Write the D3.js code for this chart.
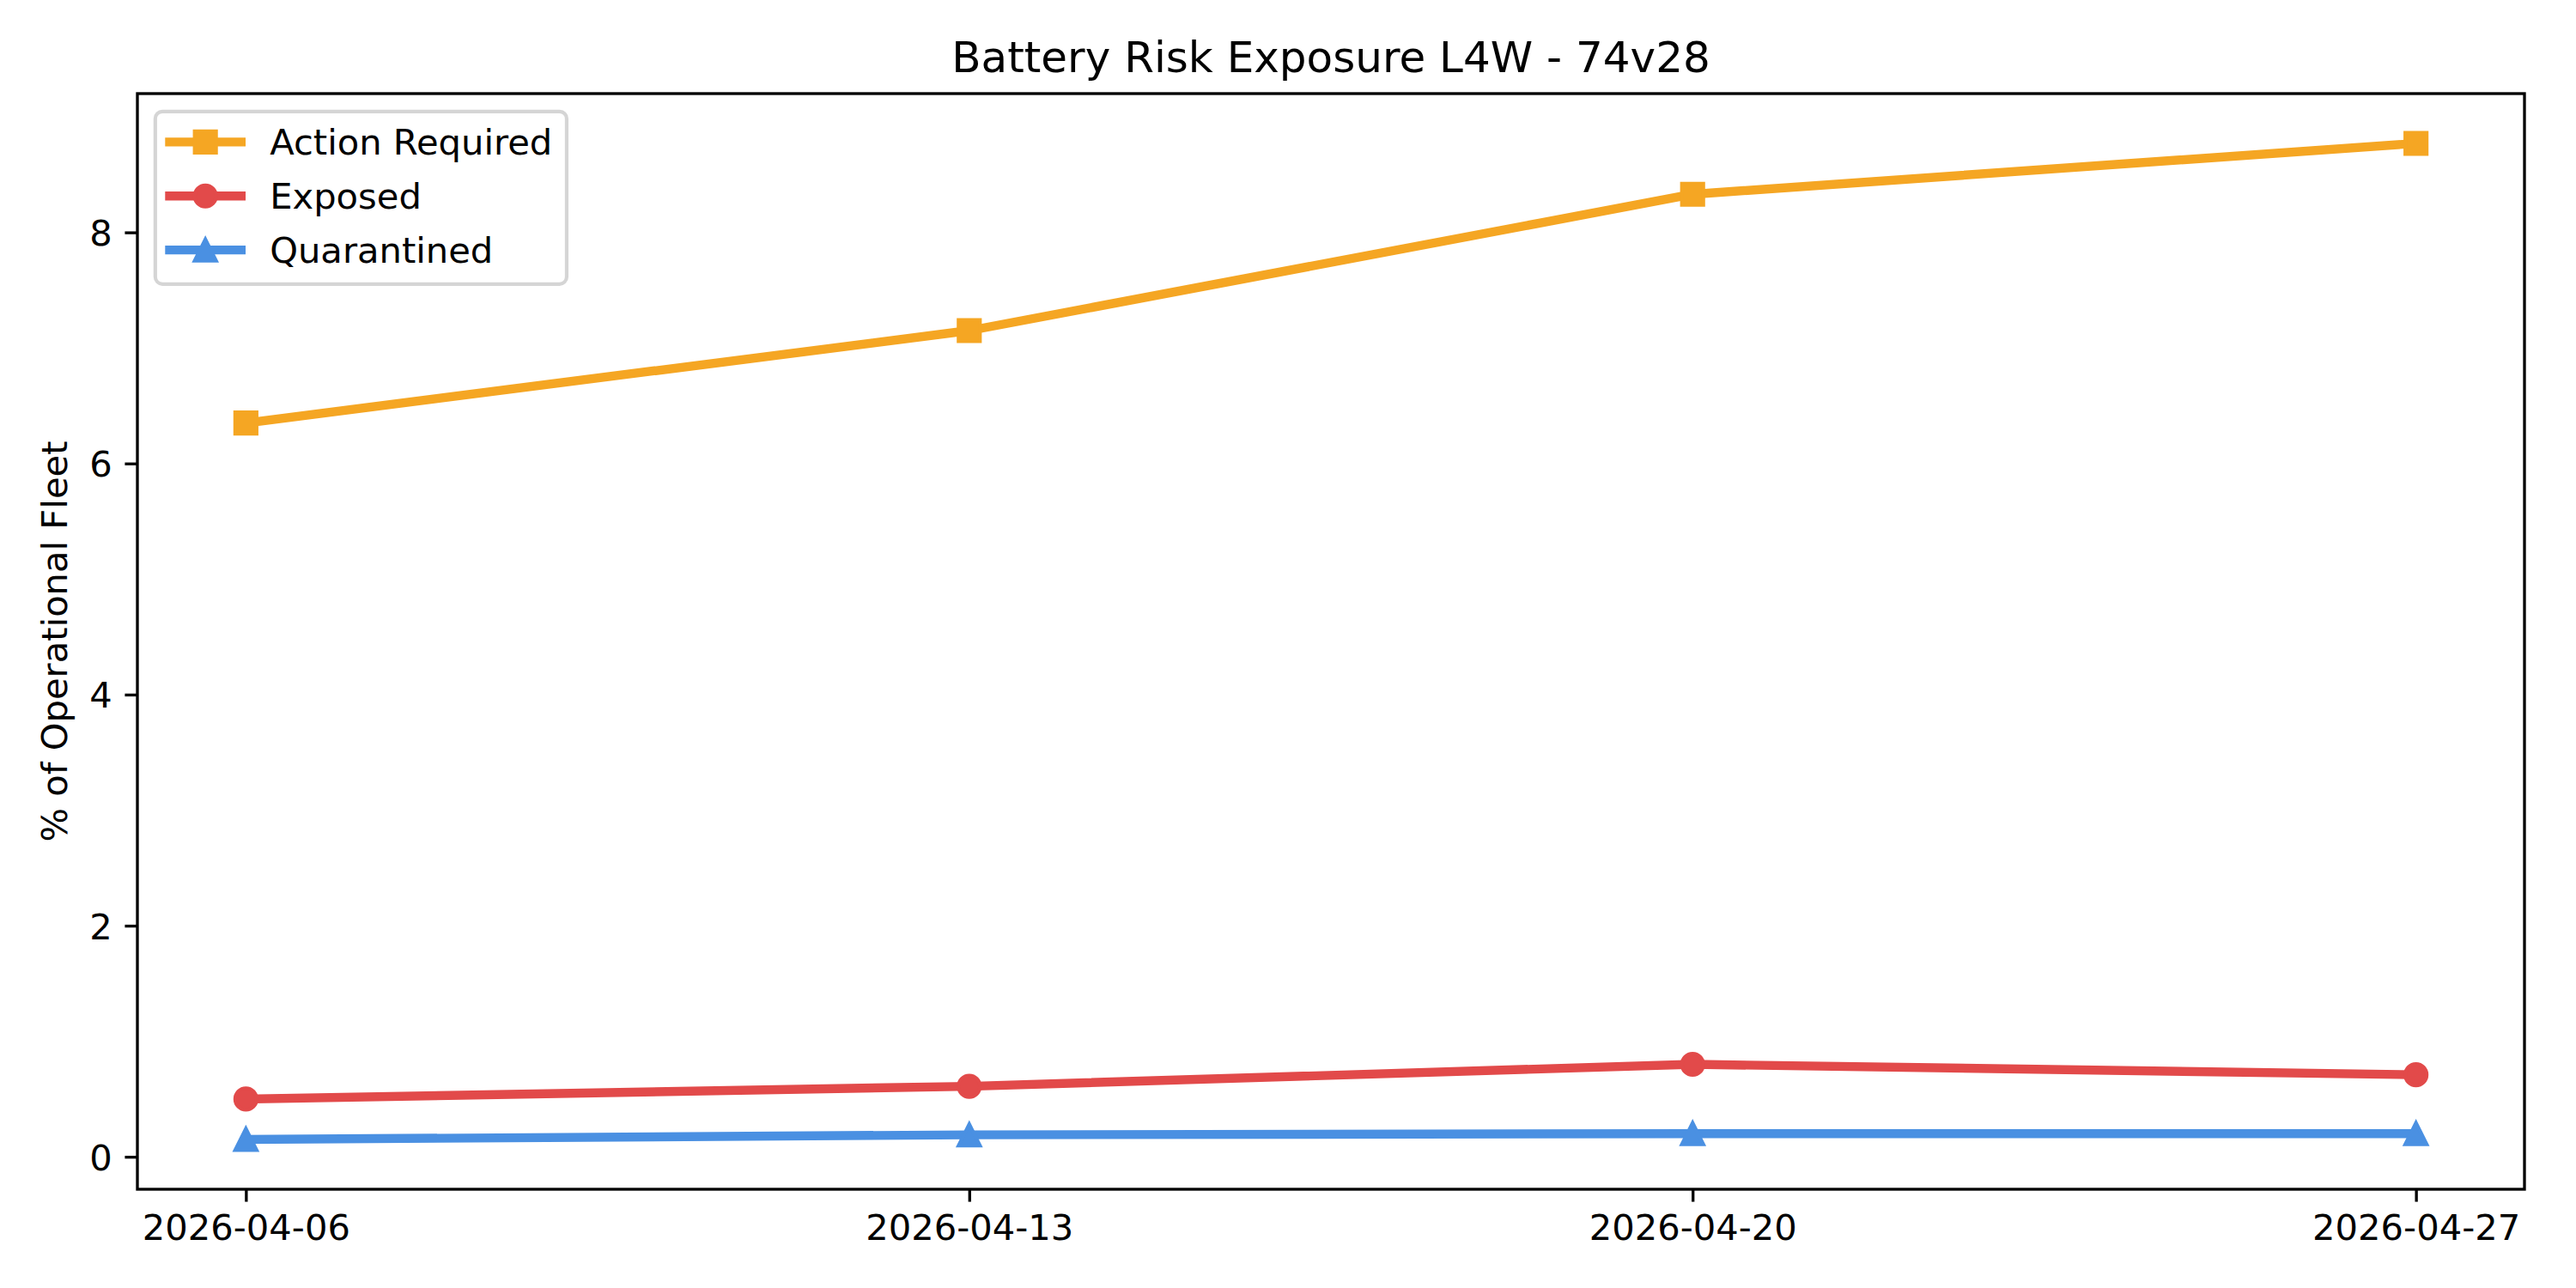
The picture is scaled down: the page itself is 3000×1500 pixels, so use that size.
<!DOCTYPE html>
<html>
<head>
<meta charset="utf-8">
<script src="https://cdn.jsdelivr.net/npm/d3@7"></script>
<style>
  body { margin: 0; background: #fff; }
  svg { display: block; font-family: "DejaVu Sans", sans-serif; }
</style>
</head>
<body>
<div id="chart"></div>
<script>
// weekly snapshot dates
const weeks = ['2026-04-06', '2026-04-13', '2026-04-20', '2026-04-27'];

// % of operational fleet
const actionRequired = [6.35, 7.15, 8.33, 8.77];
const exposed = [0.50, 0.61, 0.80, 0.71];
const quarantined = [0.15, 0.19, 0.20, 0.20];

const seriesNames = ['Action Required', 'Exposed', 'Quarantined'];
const seriesColors = ['#F5A623', '#E24A4A', '#4A90E2'];
const seriesMarkers = ['square', 'circle', 'triangle'];
const yTicks = [0, 2, 4, 6, 8];

const titleText = 'Battery Risk Exposure L4W - 74v28';
const yLabel = '% of Operational Fleet';

// 300 dpi → 1pt = 300/72 px
const pt = 300 / 72;
const fs = 10 * pt;

const W = 3000, H = 1500;
const margin = { top: 109, right: 60, bottom: 115, left: 160 };
const width = W - margin.left - margin.right,
      height = H - margin.top - margin.bottom;

const parse = d3.utcParse('%Y-%m-%d');
const dates = weeks.map(parse);

const series = [actionRequired, exposed, quarantined].map((vals, i) => ({
  name: seriesNames[i],
  color: seriesColors[i],
  marker: seriesMarkers[i],
  values: vals.map((v, j) => ({ date: dates[j], value: v }))
}));

// matplotlib-style 5% margins
const xExt = d3.extent(dates);
const xPad = (xExt[1] - xExt[0]) * 0.05;
const x = d3.scaleUtc()
  .domain([new Date(+xExt[0] - xPad), new Date(+xExt[1] + xPad)])
  .range([0, width]);

const allVals = [].concat(actionRequired, exposed, quarantined);
const yExt = d3.extent(allVals);
const yPad = (yExt[1] - yExt[0]) * 0.05;
const y = d3.scaleLinear()
  .domain([yExt[0] - yPad, yExt[1] + yPad])
  .range([height, 0]);

const svg = d3.select('#chart')
  .append('svg')
  .attr('width', W)
  .attr('height', H);

svg.append('rect')
  .attr('width', W)
  .attr('height', H)
  .attr('fill', '#fff');

const chart = svg.append('g')
  .attr('transform', `translate(${margin.left}, ${margin.top})`);

// axes
const tickLen = 3.5 * pt;
const xAxis = chart.append('g')
  .attr('transform', `translate(0, ${height})`)
  .call(d3.axisBottom(x)
    .tickValues(dates)
    .tickFormat(d3.utcFormat('%Y-%m-%d'))
    .tickSize(tickLen)
    .tickSizeOuter(0)
    .tickPadding(3.5 * pt));

const yAxis = chart.append('g')
  .call(d3.axisLeft(y)
    .tickValues(yTicks)
    .tickFormat(d3.format('d'))
    .tickSize(tickLen)
    .tickSizeOuter(0)
    .tickPadding(3.5 * pt));

[xAxis, yAxis].forEach(a => {
  a.select('.domain').remove();
  a.selectAll('line').attr('stroke', '#000').attr('stroke-width', 0.8 * pt);
  a.selectAll('text')
    .attr('fill', '#000')
    .style('font-size', fs + 'px')
    .style('font-family', '"DejaVu Sans", sans-serif');
});
yAxis.selectAll('text').attr('dy', '0.36em');

// lines
const line = d3.line()
  .x(d => x(d.date))
  .y(d => y(d.value));

const lw = 2.5 * pt;
const ms = 6 * pt;

function markerPath(type) {
  const h = ms / 2;
  if (type === 'square') return `M${-h},${-h}H${h}V${h}H${-h}Z`;
  if (type === 'triangle') return `M0,${-h}L${-h},${h}L${h},${h}Z`;
  return d3.arc()({ innerRadius: 0, outerRadius: h, startAngle: 0, endAngle: 2 * Math.PI });
}

const groups = chart.selectAll('.series')
  .data(series)
  .enter()
  .append('g')
  .attr('class', 'series');

groups.append('path')
  .attr('d', d => line(d.values))
  .attr('fill', 'none')
  .attr('stroke', d => d.color)
  .attr('stroke-width', lw)
  .attr('stroke-linejoin', 'round')
  .attr('stroke-linecap', 'square');

groups.each(function(s) {
  d3.select(this).selectAll('.pt')
    .data(s.values)
    .enter()
    .append('path')
    .attr('class', 'pt')
    .attr('transform', d => `translate(${x(d.date)}, ${y(d.value)})`)
    .attr('d', markerPath(s.marker))
    .attr('fill', s.color)
    .attr('stroke', s.color)
    .attr('stroke-width', 1 * pt);
});

// frame
chart.append('rect')
  .attr('width', width)
  .attr('height', height)
  .attr('fill', 'none')
  .attr('stroke', '#000')
  .attr('stroke-width', 0.8 * pt);

// title and y label
svg.append('text')
  .attr('x', margin.left + width / 2)
  .attr('y', margin.top - 6 * pt)
  .attr('text-anchor', 'middle')
  .style('font-size', 12 * pt + 'px')
  .text(titleText);

svg.append('text')
  .attr('transform', `translate(78, ${margin.top + height / 2}) rotate(-90)`)
  .attr('text-anchor', 'middle')
  .style('font-size', fs + 'px')
  .text(yLabel);

// legend
const pad = 0.5 * fs;
const lgX = pad, lgY = pad;
const rowH = 62.9;
const handleLen = 2 * fs;
const borderPad = 0.4 * fs;

const legend = chart.append('g')
  .attr('transform', `translate(${lgX}, ${lgY})`);

const box = legend.append('rect')
  .attr('rx', 0.2 * fs)
  .attr('fill', '#fff')
  .attr('fill-opacity', 0.8)
  .attr('stroke', '#d5d5d5')
  .attr('stroke-width', 1 * pt);

const items = legend.selectAll('.item')
  .data(series)
  .enter()
  .append('g')
  .attr('class', 'item')
  .attr('transform', (d, i) => `translate(0, ${35.5 + i * rowH})`);

items.append('line')
  .attr('x1', borderPad)
  .attr('x2', borderPad + handleLen)
  .attr('stroke', d => d.color)
  .attr('stroke-width', lw)
  .attr('stroke-linecap', 'square');

items.append('path')
  .attr('transform', `translate(${borderPad + handleLen / 2}, 0)`)
  .attr('d', d => markerPath(d.marker))
  .attr('fill', d => d.color)
  .attr('stroke', d => d.color)
  .attr('stroke-width', 1 * pt);

const labels = items.append('text')
  .attr('x', borderPad + handleLen + 0.8 * fs)
  .attr('y', 14.5)
  .style('font-size', fs + 'px')
  .text(d => d.name);

let maxW = 0;
labels.each(function() { maxW = Math.max(maxW, this.getComputedTextLength()); });
box.attr('width', borderPad + handleLen + 0.8 * fs + maxW + borderPad)
  .attr('height', 201);
</script>
</body>
</html>
